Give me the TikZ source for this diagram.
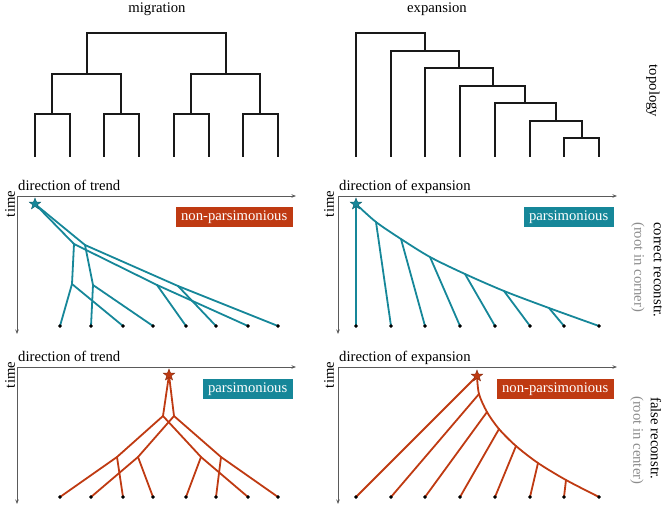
\documentclass[tikz,border=0pt]{standalone}
\usepackage{fontspec}
\setmainfont{Liberation Serif}
\usetikzlibrary{shapes.geometric,arrows.meta}
\definecolor{tealc}{RGB}{22,135,153}
\definecolor{redc}{RGB}{191,58,18}
\definecolor{axisc}{RGB}{90,90,90}
\definecolor{grayt}{RGB}{140,140,140}
\begin{document}
\begin{tikzpicture}[x=1pt,y=-1pt,
  lbl/.style={font=\fontsize{14.7}{17}\selectfont, inner sep=0pt},
  topo/.style={line width=2pt, black!90, line cap=rect},
  axisline/.style={axisc, line width=1pt, -{Stealth[length=4.5pt,width=3.5pt]}},
  treet/.style={line width=1.8pt, tealc, line cap=round, line join=round},
  treer/.style={line width=1.8pt, redc, line cap=round, line join=round},
  leafdot/.style={circle, fill=black, minimum size=3.4pt, inner sep=0pt},
  starnode/.style={star, star points=5, star point ratio=2.4, minimum size=12pt, inner sep=0pt},
  boxlbl/.style={lbl, text=white, minimum height=20pt, inner xsep=5.5pt, inner ysep=0pt}
]
\useasboundingbox (0,0) rectangle (667,507);

% ---------- titles ----------
\node[lbl, anchor=base] (tmig) at (157,12) {migration};
\node[lbl, anchor=base] (texp) at (437,12) {expansion};
\node[lbl, rotate=-90] (ttopo) at (653,91) {topology};

% ---------- top-left topology ----------
\coordinate (tr) at (157,33);
\coordinate (ta) at (87,74);
\coordinate (tb) at (226,74);
\coordinate (tc) at (52,114);
\coordinate (td) at (121,114);
\coordinate (te) at (191,114);
\coordinate (tf) at (260,114);
\foreach \i/\x in {1/35,2/70,3/104,4/139,5/174,6/209,7/243,8/278}
  \coordinate (tl\i) at (\x,156);
\draw[topo] (tr) -| (ta);
\draw[topo] (tr) -| (tb);
\draw[topo] (ta) -| (tc);
\draw[topo] (ta) -| (td);
\draw[topo] (tb) -| (te);
\draw[topo] (tb) -| (tf);
\draw[topo] (tc) -| (tl1);
\draw[topo] (tc) -| (tl2);
\draw[topo] (td) -| (tl3);
\draw[topo] (td) -| (tl4);
\draw[topo] (te) -| (tl5);
\draw[topo] (te) -| (tl6);
\draw[topo] (tf) -| (tl7);
\draw[topo] (tf) -| (tl8);

% ---------- top-right topology ----------
\foreach \i/\x in {1/356,2/391,3/425,4/460,5/495,6/530,7/564,8/599}
  \coordinate (el\i) at (\x,156);
\coordinate (e1) at (390,33);
\coordinate (e2) at (425,51);
\coordinate (e3) at (459,68);
\coordinate (e4) at (493,86);
\coordinate (e5) at (525,103);
\coordinate (e6) at (556,121);
\coordinate (e7) at (582,138);
\draw[topo] (e1) -| (el1);
\draw[topo] (e1) -| (e2);
\draw[topo] (e2) -| (el2);
\draw[topo] (e2) -| (e3);
\draw[topo] (e3) -| (el3);
\draw[topo] (e3) -| (e4);
\draw[topo] (e4) -| (el4);
\draw[topo] (e4) -| (e5);
\draw[topo] (e5) -| (el5);
\draw[topo] (e5) -| (e6);
\draw[topo] (e6) -| (el6);
\draw[topo] (e6) -| (e7);
\draw[topo] (e7) -| (el7);
\draw[topo] (e7) -| (el8);

% ---------- axes ----------
\coordinate (ao1) at (17,196);  \coordinate (ax1) at (296,196); \coordinate (ay1) at (17,334);
\coordinate (ao2) at (338,196); \coordinate (ax2) at (617,196); \coordinate (ay2) at (338,334);
\coordinate (ao3) at (17,367);  \coordinate (ax3) at (296,367); \coordinate (ay3) at (17,504);
\coordinate (ao4) at (338,367); \coordinate (ax4) at (617,367); \coordinate (ay4) at (338,504);
\foreach \k in {1,2,3,4}{
  \draw[axisline] (ao\k) -- (ax\k);
  \draw[axisline] (ao\k) -- (ay\k);
}
\node[lbl, anchor=base west] (d1) at (18,190) {direction of trend};
\node[lbl, anchor=base west] (d2) at (339,190) {direction of expansion};
\node[lbl, anchor=base west] (d3) at (18,361) {direction of trend};
\node[lbl, anchor=base west] (d4) at (339,361) {direction of expansion};
\node[lbl, rotate=90] (ti1) at (10,204) {time};
\node[lbl, rotate=90] (ti2) at (329,204) {time};
\node[lbl, rotate=90] (ti3) at (10,375) {time};
\node[lbl, rotate=90] (ti4) at (329,375) {time};

% ---------- row labels ----------
\node[lbl, rotate=-90, anchor=west] (rc1) at (658,222) {correct reconstr.};
\node[lbl, rotate=-90, anchor=west, text=grayt] (rc2) at (638,222) {(root in corner)};
\node[lbl, rotate=-90, anchor=west] (rf1) at (656,397) {false reconstr.};
\node[lbl, rotate=-90, anchor=west, text=grayt] (rf2) at (637,396) {(root in center)};

% ---------- boxes ----------
\node[boxlbl, fill=redc, anchor=east] (b1) at (293,217) {non-parsimonious};
\node[boxlbl, fill=tealc, anchor=east] (b2) at (614,217) {parsimonious};
\node[boxlbl, fill=tealc, anchor=east] (b3) at (293,389) {parsimonious};
\node[boxlbl, fill=redc, anchor=east] (b4) at (614,389) {non-parsimonious};

% ---------- leaves ----------
\foreach \i/\x in {1/60,2/91,3/123,4/153,5/186,6/216,7/248,8/278}{
  \node[leafdot] (ml\i) at (\x,326) {};
  \node[leafdot] (bl\i) at (\x,497) {};
}
\foreach \i/\x in {1/356,2/391,3/425,4/460,5/495,6/530,7/564,8/599}{
  \node[leafdot] (mr\i) at (\x,326) {};
  \node[leafdot] (br\i) at (\x,497) {};
}

% ---------- middle-left tree (teal) ----------
\coordinate (mlr) at (35,204);
\coordinate (mA) at (74,244);
\coordinate (mB) at (85,245);
\coordinate (mC) at (72,284);
\coordinate (mD) at (93,285);
\coordinate (mE) at (157,285);
\coordinate (mF) at (178,286);
\draw[treet] (mlr) -- (mA);
\draw[treet] (mlr) -- (mB);
\draw[treet] (mA) -- (mC);
\draw[treet] (mA) -- (mE);
\draw[treet] (mB) -- (mD);
\draw[treet] (mB) -- (mF);
\draw[treet] (mC) -- (ml1.center);
\draw[treet] (mC) -- (ml3.center);
\draw[treet] (mD) -- (ml2.center);
\draw[treet] (mD) -- (ml4.center);
\draw[treet] (mE) -- (ml5.center);
\draw[treet] (mE) -- (ml7.center);
\draw[treet] (mF) -- (ml6.center);
\draw[treet] (mF) -- (ml8.center);

% ---------- middle-right tree (teal) ----------
\coordinate (mrr) at (356,204);
\coordinate (ms1) at (376,222);
\coordinate (ms2) at (401,239);
\coordinate (ms3) at (430,257);
\coordinate (ms4) at (465,274);
\coordinate (ms5) at (504,291);
\coordinate (ms6) at (549,308);
\draw[treet] (mrr) -- (mr1.center);
\draw[treet] plot[smooth, tension=0.5] coordinates {(mrr) (ms1) (ms2) (ms3) (ms4) (ms5) (ms6) (mr8.center)};
\draw[treet] (ms1) -- (mr2.center);
\draw[treet] (ms2) -- (mr3.center);
\draw[treet] (ms3) -- (mr4.center);
\draw[treet] (ms4) -- (mr5.center);
\draw[treet] (ms5) -- (mr6.center);
\draw[treet] (ms6) -- (mr7.center);

% ---------- bottom-left tree (red) ----------
\coordinate (blr) at (169,375);
\coordinate (bL) at (163,416);
\coordinate (bR) at (174,416);
\coordinate (bP) at (117,457);
\coordinate (bQ) at (138,457);
\coordinate (bU) at (201,457);
\coordinate (bV) at (221,457);
\draw[treer] (blr) -- (bL);
\draw[treer] (blr) -- (bR);
\draw[treer] (bL) -- (bP);
\draw[treer] (bL) -- (bU);
\draw[treer] (bR) -- (bQ);
\draw[treer] (bR) -- (bV);
\draw[treer] (bP) -- (bl1.center);
\draw[treer] (bP) -- (bl3.center);
\draw[treer] (bQ) -- (bl2.center);
\draw[treer] (bQ) -- (bl4.center);
\draw[treer] (bU) -- (bl5.center);
\draw[treer] (bU) -- (bl7.center);
\draw[treer] (bV) -- (bl6.center);
\draw[treer] (bV) -- (bl8.center);

% ---------- bottom-right tree (red) ----------
\coordinate (brr) at (477,376);
\coordinate (bs1) at (479,394);
\coordinate (bs2) at (487,412);
\coordinate (bs3) at (499,429);
\coordinate (bs4) at (516,446);
\coordinate (bs5) at (538,463);
\coordinate (bs6) at (566,480);
\draw[treer] (brr) -- (br1.center);
\draw[treer] plot[smooth, tension=0.5] coordinates {(brr) (bs1) (bs2) (bs3) (bs4) (bs5) (bs6) (br8.center)};
\draw[treer] (bs1) -- (br2.center);
\draw[treer] (bs2) -- (br3.center);
\draw[treer] (bs3) -- (br4.center);
\draw[treer] (bs4) -- (br5.center);
\draw[treer] (bs5) -- (br6.center);
\draw[treer] (bs6) -- (br7.center);

% ---------- dots on top, stars ----------
\foreach \i in {1,...,8}{
  \fill (ml\i.center) circle (1.8pt);
  \fill (bl\i.center) circle (1.8pt);
  \fill (mr\i.center) circle (1.8pt);
  \fill (br\i.center) circle (1.8pt);
}
\node[starnode, fill=tealc, draw=tealc!70!black, line width=0.4pt] (st1) at (mlr) {};
\node[starnode, fill=tealc, draw=tealc!70!black, line width=0.4pt] (st2) at (mrr) {};
\node[starnode, fill=redc, draw=redc!70!black, line width=0.4pt] (st3) at (blr) {};
\node[starnode, fill=redc, draw=redc!70!black, line width=0.4pt] (st4) at (brr) {};
\end{tikzpicture}
\end{document}
